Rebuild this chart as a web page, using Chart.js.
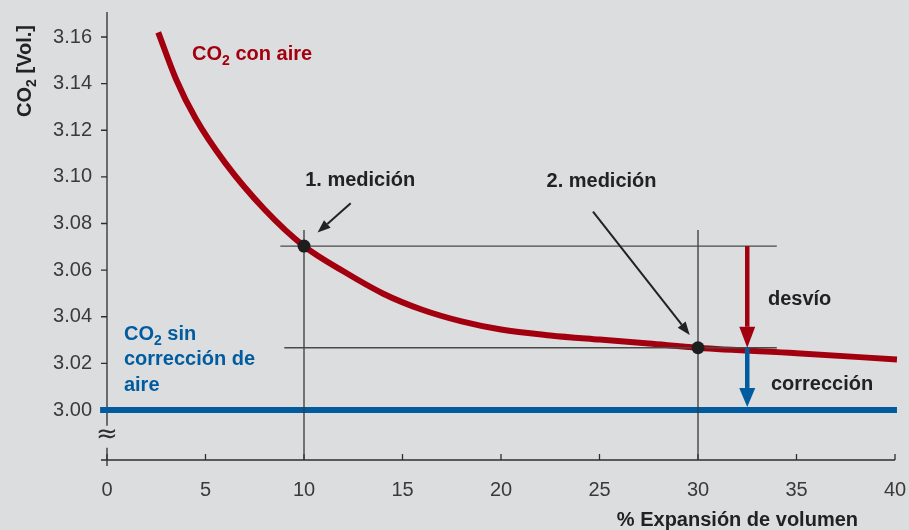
<!DOCTYPE html>
<html>
<head>
<meta charset="utf-8">
<title>CO2 con aire</title>
<script src="https://cdn.jsdelivr.net/npm/chart.js@4.4.1/dist/chart.umd.min.js"></script>
<style>
  html, body { margin: 0; padding: 0; background: #dcdddf; }
  #wrap { width: 909px; height: 530px; }
</style>
</head>
<body>
<div id="wrap"><canvas id="myChart" width="909" height="530"></canvas></div>
<script>
// Axis ticks
const xTicks = [0, 5, 10, 15, 20, 25, 30, 35, 40];
const yTicks = [3.00, 3.02, 3.04, 3.06, 3.08, 3.10, 3.12, 3.14, 3.16];

// CO2 con aire (red curve)
const curveX = [2.6, 3.5, 4.5, 6, 8, 10, 12, 14, 16, 18, 20, 22.5, 25, 27.5, 30, 35, 40.1];
const curveY = [3.162, 3.142, 3.125, 3.106, 3.086, 3.0703, 3.0595, 3.050, 3.043, 3.038, 3.0345, 3.032, 3.0302, 3.0285, 3.0267, 3.0243, 3.0217];

// CO2 sin corrección de aire (blue line)
const baseX = [-0.35, 40.1];
const baseY = [3.00, 3.00];

// the two measurements
const measureX = [10, 30];
const measureY = [3.0703, 3.0267];

// helper lines through the measurements
const hLineX = [[8.8, 34.0], [9.0, 34.0]];
const vLineTop = 3.0772;

// desvío / corrección arrows at this x
const deltaX = 32.5;

const Y_MIN = 2.97855, Y_MAX = 3.17072;

const RED = '#a3000f';
const BLUE = '#005c9f';
const INK = '#222222';
const AXIS = '#2e2e2e';
const FONT = "'Liberation Sans', Arial, Helvetica, sans-serif";

Chart.defaults.font.family = FONT;

const pts = (xs, ys) => xs.map((x, i) => ({ x: x, y: ys[i] }));

// draws text that has a subscript part, parts = [[text, isSub], ...]
function richText(ctx, parts, x, y, size, align) {
  const measure = (t, sub) => {
    ctx.font = 'bold ' + (sub ? Math.round(size * 0.72) : size) + 'px ' + FONT;
    return ctx.measureText(t).width;
  };
  let total = 0;
  parts.forEach(p => { total += measure(p[0], p[1]); });
  let cx = align === 'center' ? x - total / 2 : x;
  ctx.textAlign = 'left';
  ctx.textBaseline = 'alphabetic';
  parts.forEach(p => {
    const w = measure(p[0], p[1]);
    ctx.fillText(p[0], cx, p[1] ? y + 5 : y);
    cx += w;
  });
}

function arrow(ctx, x1, y1, x2, y2, color, w, headLen, headHalf) {
  const a = Math.atan2(y2 - y1, x2 - x1);
  const bx = x2 - headLen * Math.cos(a), by = y2 - headLen * Math.sin(a);
  ctx.strokeStyle = color;
  ctx.lineWidth = w;
  ctx.beginPath();
  ctx.moveTo(x1, y1);
  ctx.lineTo(bx, by);
  ctx.stroke();
  ctx.fillStyle = color;
  ctx.beginPath();
  ctx.moveTo(x2, y2);
  ctx.lineTo(bx + headHalf * Math.sin(a), by - headHalf * Math.cos(a));
  ctx.lineTo(bx - headHalf * Math.sin(a), by + headHalf * Math.cos(a));
  ctx.closePath();
  ctx.fill();
}

const decor = {
  id: 'decor',
  beforeDraw(chart) {
    const ctx = chart.ctx;
    ctx.save();
    ctx.fillStyle = '#dcdddf';
    ctx.fillRect(0, 0, chart.width, chart.height);
    ctx.restore();
  },
  beforeDatasetsDraw(chart) {
    const { ctx, chartArea: ca, scales: { x, y } } = chart;
    ctx.save();
    ctx.strokeStyle = AXIS;
    ctx.lineWidth = 1.3;
    // x axis, with inward ticks
    ctx.beginPath();
    ctx.moveTo(ca.left - 6, ca.bottom);
    ctx.lineTo(ca.right, ca.bottom);
    xTicks.forEach(v => {
      const px = x.getPixelForValue(v);
      ctx.moveTo(px, ca.bottom);
      ctx.lineTo(px, ca.bottom - 6);
    });
    // y ticks point outward
    yTicks.forEach(v => {
      const py = y.getPixelForValue(v);
      ctx.moveTo(ca.left - 6, py);
      ctx.lineTo(ca.left, py);
    });
    ctx.stroke();
    // y axis with a break near the bottom
    const brk = y.getPixelForValue(2.989);
    ctx.beginPath();
    ctx.moveTo(ca.left, ca.top);
    ctx.lineTo(ca.left, brk - 10);
    ctx.moveTo(ca.left, brk + 12);
    ctx.lineTo(ca.left, ca.bottom + 6);
    ctx.stroke();
    ctx.fillStyle = AXIS;
    ctx.font = '26px DejaVu Sans';
    ctx.textAlign = 'center';
    ctx.textBaseline = 'middle';
    ctx.fillText('\u2248', ca.left, brk);
    ctx.restore();
  },
  afterDraw(chart) {
    const { ctx, scales: { x, y } } = chart;
    ctx.save();
    // pointer arrows for the measurements
    arrow(ctx, x.getPixelForValue(12.37), y.getPixelForValue(3.0887),
      x.getPixelForValue(10.69), y.getPixelForValue(3.0761), INK, 2, 13, 5);
    arrow(ctx, x.getPixelForValue(24.67), y.getPixelForValue(3.0851),
      x.getPixelForValue(29.58), y.getPixelForValue(3.0322), INK, 2, 13, 5);
    // desvío and corrección
    const dx = x.getPixelForValue(deltaX);
    arrow(ctx, dx, y.getPixelForValue(measureY[0]), dx, y.getPixelForValue(measureY[1]), RED, 4.5, 21, 8);
    arrow(ctx, dx, y.getPixelForValue(measureY[1]), dx, y.getPixelForValue(3.0013), BLUE, 4.5, 19, 8);

    // labels
    ctx.fillStyle = INK;
    ctx.font = 'bold 20px ' + FONT;
    ctx.textAlign = 'left';
    ctx.textBaseline = 'alphabetic';
    ctx.fillText('1. medición', x.getPixelForValue(10.06), y.getPixelForValue(3.0961));
    ctx.fillText('2. medición', x.getPixelForValue(22.31), y.getPixelForValue(3.0957));
    ctx.fillText('desvío', x.getPixelForValue(33.55), y.getPixelForValue(3.0450));
    ctx.fillText('corrección', x.getPixelForValue(33.70), y.getPixelForValue(3.0086));

    ctx.fillStyle = RED;
    richText(ctx, [['CO', false], ['2', true], [' con aire', false]],
      x.getPixelForValue(4.32), y.getPixelForValue(3.1501), 20, 'left');

    ctx.fillStyle = BLUE;
    richText(ctx, [['CO', false], ['2', true], [' sin', false]],
      x.getPixelForValue(0.86), y.getPixelForValue(3.0300), 20, 'left');
    ctx.font = 'bold 20px ' + FONT;
    ctx.fillText('corrección de', x.getPixelForValue(0.86), y.getPixelForValue(3.0193));
    ctx.fillText('aire', x.getPixelForValue(0.86), y.getPixelForValue(3.0082));

    // axis titles
    ctx.fillStyle = INK;
    ctx.font = 'bold 20px ' + FONT;
    ctx.textAlign = 'right';
    ctx.fillText('% Expansión de volumen', 858, 526);

    ctx.translate(31, 71);
    ctx.rotate(-Math.PI / 2);
    richText(ctx, [['CO', false], ['2', true], [' [Vol.]', false]], 0, 0, 20, 'center');
    ctx.restore();
  }
};

const ctx = document.getElementById('myChart').getContext('2d');
const myChart = new Chart(ctx, {
  type: 'line',
  data: {
    datasets: [{
      label: 'mediciones',
      data: pts(measureX, measureY),
      showLine: false,
      pointRadius: 6.5,
      pointBackgroundColor: '#1e1e1e',
      pointBorderWidth: 0,
      order: 0
    }, {
      label: 'h1',
      data: pts(hLineX[0], [measureY[0], measureY[0]]),
      borderColor: '#4a4a4a', borderWidth: 1.3, pointRadius: 0, order: 1
    }, {
      label: 'h2',
      data: pts(hLineX[1], [measureY[1], measureY[1]]),
      borderColor: '#4a4a4a', borderWidth: 1.3, pointRadius: 0, order: 1
    }, {
      label: 'v1',
      data: pts([measureX[0], measureX[0]], [vLineTop, Y_MIN]),
      borderColor: '#3a3a3a', borderWidth: 1.3, pointRadius: 0, order: 1
    }, {
      label: 'v2',
      data: pts([measureX[1], measureX[1]], [vLineTop, Y_MIN]),
      borderColor: '#3a3a3a', borderWidth: 1.3, pointRadius: 0, order: 1
    }, {
      label: 'CO2 con aire',
      data: pts(curveX, curveY),
      borderColor: RED, borderWidth: 6, pointRadius: 0,
      cubicInterpolationMode: 'monotone', clip: false, order: 2
    }, {
      label: 'CO2 sin corrección de aire',
      data: pts(baseX, baseY),
      borderColor: BLUE, borderWidth: 6, pointRadius: 0, clip: false, order: 3
    }]
  },
  options: {
    responsive: false,
    animation: false,
    events: [],
    layout: { padding: { top: 12, right: 14, left: 0, bottom: 0 } },
    plugins: { legend: { display: false }, tooltip: { enabled: false } },
    scales: {
      x: {
        type: 'linear',
        min: 0,
        max: 40,
        afterBuildTicks: s => { s.ticks = xTicks.map(v => ({ value: v })); },
        afterFit: s => { s.height = 70; },
        grid: { display: false, drawTicks: true, tickLength: 18 },
        border: { display: false },
        ticks: {
          padding: 0,
          autoSkip: false,
          maxRotation: 0,
          color: '#3a3a3a',
          font: { size: 20 },
          callback: v => String(v)
        }
      },
      y: {
        type: 'linear',
        min: Y_MIN,
        max: Y_MAX,
        afterBuildTicks: s => { s.ticks = yTicks.map(v => ({ value: v })); },
        afterFit: s => { s.width = 107; },
        grid: { display: false, drawTicks: true, tickLength: 15 },
        border: { display: false },
        ticks: {
          padding: 0,
          color: '#3a3a3a',
          font: { size: 20 },
          callback: v => v.toFixed(2)
        }
      }
    }
  },
  plugins: [decor]
});
</script>
</body>
</html>
